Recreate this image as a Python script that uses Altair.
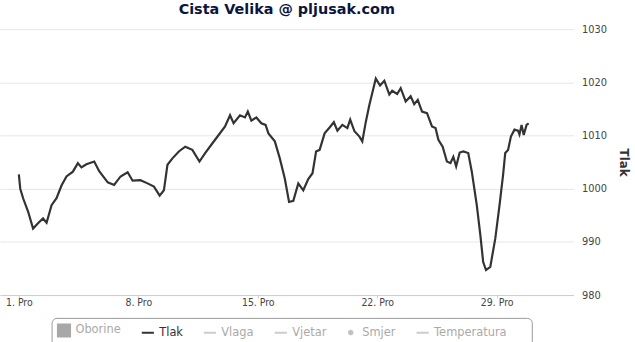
import altair as alt
import pandas as pd

# ---- data (hours since 1 Dec 00:00, pressure hPa) ----
sati = [0, 2, 6, 13, 20, 27, 34, 39, 46, 53, 60, 67, 76, 83, 88, 95, 106, 113,
        125, 134, 143, 153, 160, 171, 181, 190, 198, 204, 209, 216, 225, 234,
        244, 254, 262, 272, 281, 290, 297, 302, 311, 318, 322, 327, 334, 341,
        347, 351, 360, 367, 374, 380, 386, 393, 400, 407, 413, 418, 423, 430,
        437, 443, 448, 455, 462, 466, 472, 479, 483, 488, 493, 502, 508, 514,
        521, 525, 532, 537, 544, 551, 556, 561, 567, 574, 581, 586, 590, 596,
        602, 607, 611, 615, 620, 625, 632, 637, 644, 649, 653, 657, 663, 670,
        676, 681, 684, 688, 692, 697, 702, 704, 707, 710, 714, 717]
tlak = [1002.7, 1000.0, 998.2, 995.7, 992.5, 993.5, 994.4, 993.6, 996.9, 998.2,
        1000.6, 1002.3, 1003.2, 1004.8, 1004.0, 1004.6, 1005.1, 1003.3, 1001.2,
        1000.7, 1002.3, 1003.1, 1001.5, 1001.6, 1001.0, 1000.4, 998.7, 999.7,
        1004.5, 1005.7, 1007.0, 1007.9, 1007.3, 1005.1, 1006.7, 1008.5, 1010.1,
        1011.7, 1013.8, 1012.3, 1013.8, 1013.4, 1014.5, 1012.8, 1013.4, 1012.3,
        1012.0, 1010.4, 1008.9, 1005.7, 1001.9, 997.5, 997.7, 1001.0, 999.7,
        1001.8, 1002.9, 1007.0, 1007.3, 1010.4, 1011.5, 1012.5, 1010.9, 1012.0,
        1011.4, 1013.0, 1010.8, 1009.8, 1008.9, 1012.6, 1015.8, 1020.7, 1019.4,
        1020.3, 1017.7, 1018.4, 1017.8, 1018.9, 1016.4, 1017.4, 1015.9, 1016.7,
        1014.5, 1014.2, 1011.7, 1011.4, 1009.2, 1007.9, 1005.1, 1004.8, 1006.0,
        1004.2, 1006.8, 1007.0, 1006.7, 1003.2, 996.9, 991.3, 986.2, 984.7,
        985.3, 990.6, 996.9, 1002.6, 1006.7, 1007.3, 1009.8, 1011.1, 1010.9,
        1010.2, 1012.0, 1010.1, 1012.0, 1012.3]

serije = ["Oborine", "Tlak", "Vlaga", "Vjetar", "Smjer", "Temperatura"]
serije_stroke = ["#a8a8a8", "#333333", "#cccccc", "#cccccc", "#c4c4c4", "#cccccc"]
serije_fill = ["#a8a8a8", "#333333", "#cccccc", "#cccccc", "#b8b8b8", "#cccccc"]
serije_oblik = ["square", "stroke", "stroke", "stroke",
                "M0,-0.3A0.3,0.3,0,1,1,0,0.3A0.3,0.3,0,1,1,0,-0.3Z", "stroke"]
dani_oznake = [1, 8, 15, 22, 29]
tlak_oznake = [980, 990, 1000, 1010, 1020, 1030]

pocetak = pd.Timestamp("2012-12-01 00:00")
df = pd.DataFrame({
    "vrijeme": [pocetak + pd.Timedelta(hours=h) for h in sati],
    "tlak": tlak,
})
legend_df = pd.DataFrame({"serija": serije})

uski_font = "'DejaVu Sans Condensed', 'Liberation Sans', sans-serif"

x_enc = alt.X(
    "vrijeme:T",
    scale=alt.Scale(domain=[
        alt.DateTime(year=2012, month=11, date=29, hours=21, minutes=30),
        alt.DateTime(year=2013, month=1, date=2, hours=12),
    ]),
    axis=alt.Axis(
        values=[alt.DateTime(year=2012, month=12, date=d) for d in dani_oznake],
        labelExpr="date(datum.value) + '. Pro'",
        title=None, grid=False, domainColor="#C0D0E0", tickColor="#C0D0E0",
        tickSize=3, labelPadding=0, labelFont=uski_font,
        labelFontSize=10.5, labelColor="#444444", labelFlush=False,
        labelOverlap=False,
    ),
)
y_enc = alt.Y(
    "tlak:Q",
    scale=alt.Scale(domain=[980, 1030], nice=False, zero=False),
    axis=alt.Axis(
        orient="right", values=tlak_oznake, format="d", title="Tlak", titleAngle=90,
        titleFont="DejaVu Sans", titleFontSize=12, titleFontWeight="bold",
        titleColor="#333333", titlePadding=10, labelFont=uski_font,
        labelFontSize=11, labelColor="#444444", labelPadding=8, ticks=False,
        domain=False, grid=True, gridColor="#e6e6e6", gridWidth=1,
    ),
)

line = alt.Chart(df).mark_line(color="#333333", strokeWidth=2.2).encode(x=x_enc, y=y_enc)

leg = alt.Legend(
    orient="none", legendX=52, legendY=291, direction="horizontal",
    title="\u00a0", titleOrient="right", titlePadding=20, titleFontSize=11,
    strokeColor="#999999", cornerRadius=5, padding=5, fillColor="#ffffff",
    symbolSize=150, symbolStrokeWidth=2, labelFont="DejaVu Sans",
    labelFontSize=11.5, labelOffset=4, columnPadding=16.5,
    labelColor={"expr": "datum.value == 'Tlak' ? '#333333' : '#aaaaaa'"},
)

legend_layer = alt.Chart(legend_df).mark_point(filled=True, opacity=1).transform_filter(
    "false"
).encode(
    fill=alt.Fill("serija:N", scale=alt.Scale(domain=serije, range=serije_fill), legend=leg),
    stroke=alt.Stroke("serija:N", scale=alt.Scale(domain=serije, range=serije_stroke), legend=leg),
    shape=alt.Shape("serija:N", scale=alt.Scale(domain=serije, range=serije_oblik), legend=leg),
)

chart = alt.layer(line, legend_layer).properties(
    width=578, height=268,
    title=alt.TitleParams(
        "Cista Velika @ pljusak.com", font="DejaVu Sans", fontSize=14.5,
        fontWeight="bold", color="#0b1640", offset=6, anchor="middle",
    ),
    padding={"left": 0, "top": 0, "right": 5, "bottom": 1},
).configure_view(stroke=None)

chart.save("out.html", embed_options={"renderer": "svg", "actions": False})
